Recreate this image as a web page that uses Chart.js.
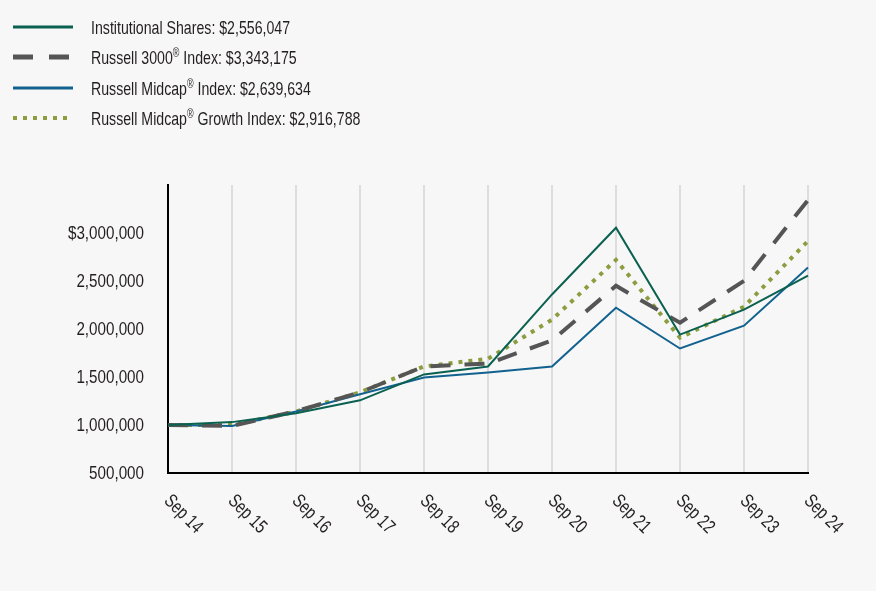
<!DOCTYPE html>
<html>
<head>
<meta charset="utf-8">
<script src="https://cdn.jsdelivr.net/npm/chart.js@4/dist/chart.umd.min.js"></script>
<style>
  html, body { margin:0; padding:0; background:#f7f7f7; }
  #wrap { position:relative; width:876px; height:591px; overflow:hidden; font-family:"Liberation Sans",Arial,sans-serif; }
  #c { position:absolute; left:0; top:0; }
  #legend { position:absolute; left:0; top:0; }
  .row { position:absolute; left:13px; height:30px; width:600px; }
  .row svg { position:absolute; left:0; top:0; }
  .row .t { position:absolute; left:78px; top:0; font-size:19px; color:#231f20; white-space:nowrap; line-height:30px; transform:scaleX(0.745); transform-origin:0 50%; }
  .row .r { font-size:12px; vertical-align:0.55em; line-height:1; }
</style>
</head>
<body>
<div id="wrap">
  <canvas id="c" width="876" height="591"></canvas>
  <div id="legend"></div>
</div>
<script>
const categories = ["Sep 14","Sep 15","Sep 16","Sep 17","Sep 18","Sep 19","Sep 20","Sep 21","Sep 22","Sep 23","Sep 24"];
const institutional = [1000000,1030000,1122000,1257000,1527000,1610000,2360000,3055000,1942000,2201000,2556047];
const russell3000 = [1000000,990000,1143000,1340000,1610000,1640000,1880000,2450000,2066000,2502000,3343175];
const russellMidcap = [1000000,990000,1140000,1320000,1495000,1548000,1610000,2222000,1797000,2035000,2639634];
const russellMidcapGrowth = [1000000,1000000,1140000,1340000,1610000,1690000,2097000,2720000,1910000,2232000,2916788];
const seriesNames = ["Institutional Shares: $2,556,047","Russell 3000<span class=\"r\">®</span> Index: $3,343,175","Russell Midcap<span class=\"r\">®</span> Index: $2,639,634","Russell Midcap<span class=\"r\">®</span> Growth Index: $2,916,788"];
const yTicks = [500000,1000000,1500000,2000000,2500000,3000000];

const colors = ["#0b6150","#555555","#12628f","#8b9d3e"];
const widths = [2,4,2,4];
const dashes = [[],[20,14],[],[4,6]];
const seriesData = [institutional, russell3000, russellMidcap, russellMidcapGrowth];
const FONT = '"Liberation Sans",Arial,sans-serif';

// HTML legend
const legend = document.getElementById('legend');
const rowTops = [13,43,74,104];
seriesNames.forEach((name,i)=>{
  const row = document.createElement('div');
  row.className='row';
  row.style.top = rowTops[i]+'px';
  const dash = dashes[i].length ? `stroke-dasharray="${dashes[i][0]===20?'20,16':'4,6'}"` : '';
  row.innerHTML = `<svg width="62" height="30"><line x1="0" y1="14" x2="${dashes[i][0]===4?58:60}" y2="14" stroke="${colors[i]}" stroke-width="${i===1?5:(i===3?4:3)}" ${dash}/></svg><span class="t">${name}</span>`;
  legend.appendChild(row);
});

const labelPlugin = {
  id:'customLabels',
  afterDraw(chart){
    const ctx = chart.ctx, xs = chart.scales.x, ys = chart.scales.y;
    ctx.save();
    ctx.font = '19px ' + FONT;
    ctx.fillStyle = '#231f20';
    // x labels rotated clockwise
    ctx.textAlign = 'left';
    ctx.textBaseline = 'middle';
    categories.forEach((c,i)=>{
      const x = xs.getPixelForValue(i);
      ctx.save();
      ctx.translate(x-1, chart.chartArea.bottom+25);
      ctx.rotate(45*Math.PI/180);
      ctx.scale(0.76,1);
      ctx.fillText(c,0,0);
      ctx.restore();
    });
    // y labels
    ctx.textAlign = 'right';
    yTicks.forEach(v=>{
      const y = ys.getPixelForValue(v);
      const s = v.toLocaleString('en-US');
      ctx.save();
      ctx.translate(144, y+1);
      ctx.scale(0.8,1);
      ctx.fillText(v===3000000 ? '$'+s : s, 0, 0);
      ctx.restore();
    });
    ctx.restore();
  }
};

new Chart(document.getElementById('c'), {
  type:'line',
  data:{
    labels:categories,
    datasets: seriesData.map((d,i)=>({
      label: seriesNames[i],
      data: d,
      borderColor: colors[i],
      backgroundColor: colors[i],
      borderWidth: widths[i],
      borderDash: dashes[i],
      pointRadius:0,
      tension:0,
      fill:false
    }))
  },
  options:{
    responsive:false,
    animation:false,
    layout:{ padding:{ top:185, right:68, bottom:0, left:0 } },
    plugins:{ legend:{display:false}, tooltip:{enabled:false} },
    scales:{
      x:{
        offset:false,
        grid:{ color:'#dddddd', lineWidth:2, drawTicks:false },
        border:{ color:'#000000', width:2 },
        ticks:{ display:false },
        afterFit(s){ s.height = 118; }
      },
      y:{
        min:500000, max:3500000,
        grid:{ display:false, drawTicks:false },
        border:{ color:'#000000', width:2 },
        ticks:{ display:false, stepSize:500000 },
        afterFit(s){ s.width = 168; }
      }
    }
  },
  plugins:[labelPlugin]
});
</script>
</body>
</html>
